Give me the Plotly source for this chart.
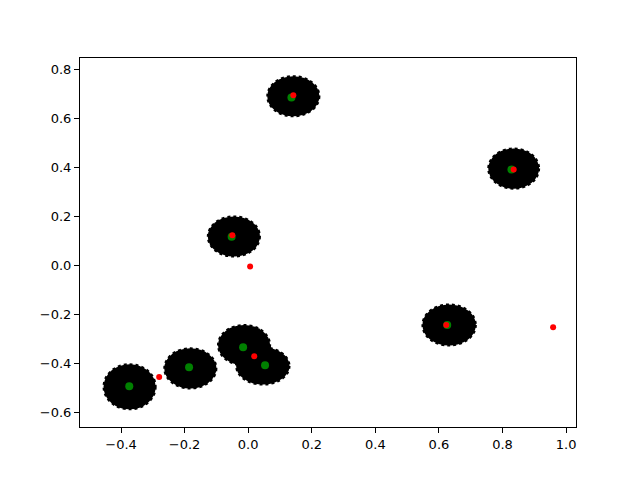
import plotly.graph_objects as go

# Cluster blobs (dense black point clouds): centre and spread (data units)
blob_x = [0.142, 0.835, -0.045, 0.632, -0.013, 0.046, -0.182, -0.373]
blob_y = [0.690, 0.395, 0.118, -0.243, -0.325, -0.410, -0.420, -0.495]
blob_rx = [0.082, 0.080, 0.082, 0.084, 0.082, 0.084, 0.082, 0.082]
blob_ry = [0.082, 0.082, 0.082, 0.084, 0.082, 0.076, 0.082, 0.092]

# Green points (true centres)
green_x = [0.136, 0.828, -0.052, 0.626, -0.016, 0.053, -0.186, -0.374]
green_y = [0.685, 0.391, 0.117, -0.243, -0.334, -0.407, -0.415, -0.493]

# Red points (estimated centres)
red_x = [0.142, 0.835, -0.050, 0.006, 0.623, 0.959, 0.019, -0.280]
red_y = [0.694, 0.391, 0.123, -0.004, -0.243, -0.252, -0.370, -0.455]

x_ticks = [-0.4, -0.2, 0.0, 0.2, 0.4, 0.6, 0.8, 1.0]
x_labels = ["\u22120.4", "\u22120.2", "0.0", "0.2", "0.4", "0.6", "0.8", "1.0"]
y_ticks = [-0.6, -0.4, -0.2, 0.0, 0.2, 0.4, 0.6, 0.8]
y_labels = ["\u22120.6", "\u22120.4", "\u22120.2", "0.0", "0.2", "0.4", "0.6", "0.8"]

fig = go.Figure()

shapes = []
for cx, cy, rx, ry in zip(blob_x, blob_y, blob_rx, blob_ry):
    shapes.append(dict(type="circle", xref="x", yref="y",
                       x0=cx - rx, x1=cx + rx, y0=cy - ry, y1=cy + ry,
                       fillcolor="black", line=dict(color="black", width=2, dash="dot"),
                       layer="below"))

fig.add_trace(go.Scatter(x=green_x, y=green_y, mode="markers",
                         marker=dict(color="green", size=8, line=dict(width=0)),
                         showlegend=False))
fig.add_trace(go.Scatter(x=red_x, y=red_y, mode="markers",
                         marker=dict(color="red", size=6, line=dict(width=0)),
                         showlegend=False))

axis_common = dict(showgrid=False, zeroline=False, showline=True, linecolor="black",
                   linewidth=1, mirror=True, ticks="outside", ticklen=5,
                   tickwidth=1, tickcolor="black",
                   tickfont=dict(family="DejaVu Sans", size=13, color="black"))

# The page body adds an 8px margin, so the figure is 8px smaller and offset.
fig.update_layout(
    width=632, height=472,
    margin=dict(l=72, r=64, t=50, b=53),
    paper_bgcolor="white", plot_bgcolor="white",
    shapes=shapes,
    xaxis=dict(range=[-0.529, 1.031], tickvals=x_ticks, ticktext=x_labels, **axis_common),
    yaxis=dict(range=[-0.659, 0.846], tickvals=y_ticks, ticktext=y_labels, **axis_common),
)

fig.write_html("out.html")
